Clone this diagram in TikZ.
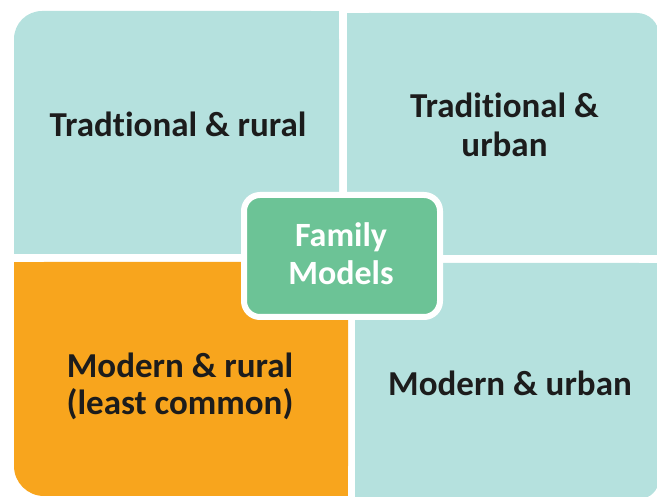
\documentclass[tikz,border=0pt]{standalone}
\usepackage{fontspec}
\setmainfont{Carlito}[Ligatures={NoCommon,NoRare,NoContextual}]
\definecolor{quadteal}{HTML}{B5E1DE}
\definecolor{quadorange}{HTML}{F8A51D}
\definecolor{centergreen}{HTML}{6CC396}
\definecolor{labeltext}{HTML}{1C1C1C}
\begin{document}
\begin{tikzpicture}[x=1pt,y=-1pt,
  quadlabel/.style={font=\fontsize{35}{40}\selectfont\bfseries, text=labeltext, anchor=base, inner sep=0pt},
  centerlabel/.style={font=\fontsize{34}{38}\selectfont\bfseries, text=white, anchor=base, inner sep=0pt},
  centerbox/.style={draw=white, line width=6pt, fill=centergreen, rounded corners=16pt, minimum width=196pt, minimum height=122pt, inner sep=0pt}]
\useasboundingbox (0,0) rectangle (657,497);
% top-left quadrant
\fill[quadteal, rounded corners=28pt] (14,11) rectangle (339,254);
\fill[quadteal] (42,11) rectangle (339,254);
\fill[quadteal] (14,39) rectangle (339,254);
% top-right quadrant
\fill[quadteal, rounded corners=22pt] (347,13) rectangle (659,255);
\fill[quadteal] (347,13) rectangle (630,255);
\fill[quadteal] (347,40) rectangle (659,255);
% bottom-left quadrant
\fill[quadorange, rounded corners=30pt] (14,262) rectangle (348,496);
\fill[quadorange] (14,262) rectangle (348,460);
\fill[quadorange] (50,262) rectangle (348,496);
% bottom-right quadrant
\fill[quadteal, rounded corners=20pt] (355,263) rectangle (659,499);
\fill[quadteal] (355,263) rectangle (659,470);
\fill[quadteal] (355,263) rectangle (630,499);
% centre
\node[centerbox] (centre) at (342,256) {};
\node[centerlabel] (family) at (341,247) {Family};
\node[centerlabel] (models) at (341,285) {Models};
% labels
\node[quadlabel] (tlrural) at (178,137) {Tradtional \& rural};
\node[quadlabel] (trtrad) at (504.5,118) {Traditional \&};
\node[quadlabel] (trurban) at (504.5,157) {urban};
\node[quadlabel] (blmodern) at (180,378) {Modern \& rural};
\node[quadlabel] (blleast) at (180,415) {(least common)};
\node[quadlabel] (brmodern) at (510,396) {Modern \& urban};
\end{tikzpicture}
\end{document}
